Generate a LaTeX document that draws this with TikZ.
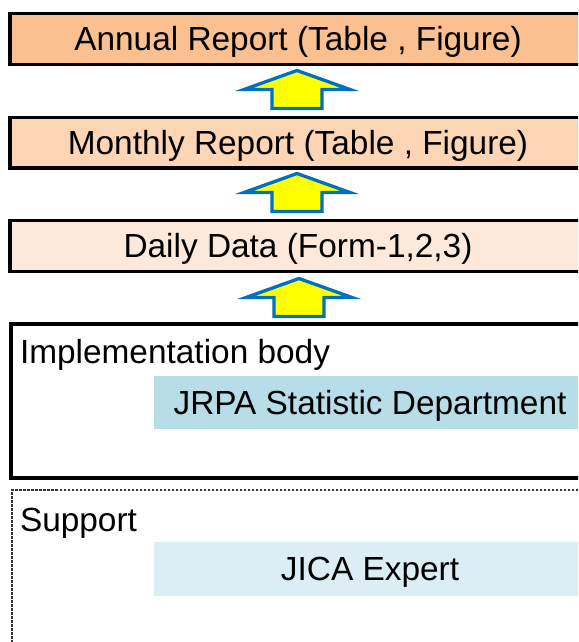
\documentclass[tikz,border=0pt]{standalone}
\usepackage{fontspec}
\setmainfont{Liberation Sans}
\definecolor{annualfill}{HTML}{FAC08F}
\definecolor{monthlyfill}{HTML}{FCD5B5}
\definecolor{dailyfill}{HTML}{FDE9D9}
\definecolor{jrpafill}{HTML}{B7DDE8}
\definecolor{jicafill}{HTML}{DAEEF3}
\definecolor{arrowblue}{HTML}{0070C0}
\definecolor{arrowyellow}{HTML}{FFFF00}
\begin{document}
\begin{tikzpicture}[x=1pt,y=-1pt,
  every node/.style={font=\fontsize{33.4}{40}\selectfont, inner sep=0pt, outer sep=0pt},
  reportbox/.style={draw=black, line width=3.5pt, minimum width=576pt, minimum height=51pt,
    text height=23.9pt, text depth=0pt},
  bodybox/.style={draw=black, line width=4pt},
  supportbox/.style={draw=black!80, line width=1.8pt, dash pattern=on 2.5pt off 1.5pt},
  orgbox/.style={minimum width=432pt, minimum height=53pt, text height=23.9pt, text depth=0pt},
  arrowstyle/.style={draw=arrowblue, fill=arrowyellow, line width=3.3pt, line join=miter},
  uparrow/.pic={\path[arrowstyle] (0,0) -- (53,19) -- (25,19) -- (25,38) -- (-25,38) -- (-25,19) -- (-53,19) -- cycle;}
]
\useasboundingbox (0,0) rectangle (578,642);
\clip (0,0) rectangle (578,642);

\node[reportbox, fill=annualfill] (annual) at (298,39) {Annual Report (Table , Figure)};
\node[reportbox, fill=monthlyfill, minimum height=50.5pt] (monthly) at (298,142.75) {Monthly Report (Table , Figure)};
\node[reportbox, fill=dailyfill] (daily) at (298,246) {Daily Data (Form-1,2,3)};

\coordinate (a1) at (297,70.5);
\coordinate (a2) at (297,173.5);
\coordinate (a3) at (299,278.5);
\pic at (a1) {uparrow};
\pic at (a2) {uparrow};
\pic at (a3) {uparrow};

\node[bodybox, minimum width=599pt, minimum height=154pt] (impl) at (310,401) {};
\node[anchor=base west] (impltitle) at (20,363.5) {Implementation body};
\node[orgbox, fill=jrpafill] (jrpa) at (370,402.5) {JRPA Statistic Department};

\node[supportbox, minimum width=598pt, minimum height=210pt] (support) at (311,595) {};
\node[anchor=base west] (supporttitle) at (20,531) {Support};
\node[orgbox, fill=jicafill, minimum height=54pt] (jica) at (370,569) {JICA Expert};
\end{tikzpicture}
\end{document}
